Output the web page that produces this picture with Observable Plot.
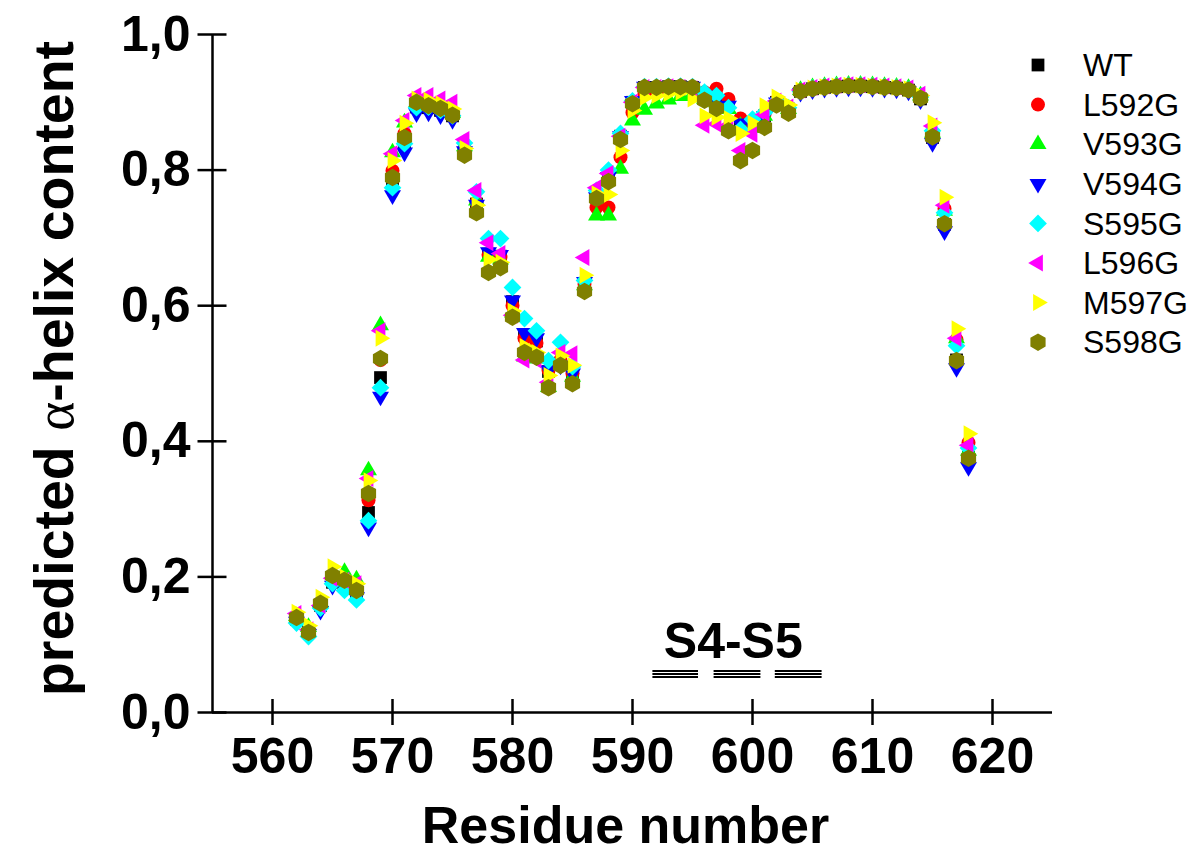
<!DOCTYPE html>
<html><head><meta charset="utf-8">
<script src="https://cdn.jsdelivr.net/npm/d3@7"></script>
<script src="https://cdn.jsdelivr.net/npm/@observablehq/plot@0.6"></script>
<style>
body{margin:0;background:#fff;}
#chart{position:relative;width:1190px;height:864px;}
</style></head><body><div id="chart"></div>
<script>
// ---------- data ----------
const residues = [562,563,564,565,566,567,568,569,
  570,571,572,573,574,575,576,577,578,579,
  580,581,582,583,584,585,586,587,588,589,
  590,591,592,593,594,595,596,597,598,599,
  600,601,602,603,604,605,606,607,608,609,
  610,611,612,613,614,615,616,617,618];

const seriesNames = ["WT","L592G","V593G","V594G","S595G","L596G","M597G","S598G"];

const WT = [0.137,0.118,0.158,0.192,0.186,0.176,0.295,0.494,
  0.780,0.840,0.893,0.892,0.888,0.880,0.830,0.750,0.676,0.673,
  0.606,0.557,0.548,0.503,0.515,0.500,0.633,0.760,0.790,0.850,
  0.900,0.922,0.922,0.923,0.923,0.922,0.910,0.905,0.895,0.870,
  0.865,0.880,0.900,0.890,0.916,0.920,0.922,0.923,0.924,0.924,
  0.923,0.922,0.921,0.918,0.905,0.848,0.720,0.520,0.376];
const L592G = [0.140,0.120,0.160,0.200,0.192,0.180,0.313,0.520,
  0.799,0.854,0.897,0.895,0.891,0.882,0.832,0.752,0.675,0.672,
  0.600,0.552,0.545,0.505,0.520,0.500,0.632,0.745,0.745,0.819,
  0.885,0.912,0.918,0.920,0.921,0.920,0.915,0.920,0.905,0.876,
  0.868,0.882,0.902,0.892,0.917,0.921,0.923,0.924,0.925,0.925,
  0.924,0.923,0.922,0.919,0.908,0.852,0.743,0.550,0.398];
const V593G = [0.142,0.126,0.163,0.205,0.207,0.196,0.357,0.571,
  0.826,0.870,0.900,0.897,0.893,0.884,0.835,0.755,0.672,0.668,
  0.590,0.525,0.522,0.480,0.515,0.495,0.630,0.733,0.733,0.802,
  0.873,0.889,0.898,0.904,0.909,0.912,0.905,0.900,0.890,0.865,
  0.862,0.880,0.900,0.890,0.918,0.922,0.924,0.925,0.926,0.926,
  0.925,0.924,0.923,0.921,0.910,0.855,0.740,0.552,0.386];
const V594G = [0.134,0.116,0.150,0.187,0.184,0.170,0.273,0.466,
  0.763,0.826,0.884,0.885,0.881,0.874,0.828,0.749,0.679,0.675,
  0.608,0.560,0.552,0.505,0.512,0.500,0.635,0.760,0.790,0.850,
  0.902,0.923,0.923,0.924,0.924,0.923,0.910,0.905,0.895,0.869,
  0.865,0.880,0.900,0.890,0.914,0.918,0.920,0.921,0.922,0.922,
  0.921,0.920,0.919,0.916,0.903,0.840,0.710,0.508,0.362];
const S595G = [0.132,0.112,0.154,0.190,0.180,0.166,0.283,0.479,
  0.774,0.839,0.892,0.893,0.888,0.880,0.840,0.768,0.699,0.699,
  0.627,0.581,0.563,0.519,0.546,0.510,0.637,0.770,0.800,0.854,
  0.902,0.923,0.923,0.924,0.924,0.923,0.915,0.910,0.892,0.860,
  0.875,0.885,0.902,0.892,0.916,0.921,0.923,0.924,0.925,0.925,
  0.924,0.923,0.922,0.919,0.908,0.858,0.737,0.541,0.390];
const L596G = [0.146,0.122,0.158,0.198,0.195,0.190,0.345,0.563,
  0.824,0.873,0.910,0.910,0.905,0.900,0.845,0.770,0.693,0.677,
  0.586,0.520,0.520,0.487,0.531,0.529,0.671,0.774,0.795,0.850,
  0.900,0.922,0.922,0.923,0.922,0.920,0.866,0.868,0.866,0.829,
  0.853,0.882,0.902,0.893,0.918,0.922,0.924,0.925,0.926,0.926,
  0.925,0.924,0.923,0.921,0.912,0.865,0.748,0.552,0.394];
const M597G = [0.148,0.128,0.170,0.215,0.200,0.190,0.342,0.552,
  0.814,0.869,0.905,0.903,0.898,0.890,0.832,0.748,0.668,0.664,
  0.592,0.540,0.531,0.497,0.526,0.512,0.645,0.765,0.764,0.829,
  0.888,0.907,0.910,0.913,0.915,0.905,0.880,0.878,0.876,0.854,
  0.869,0.895,0.908,0.896,0.918,0.921,0.923,0.924,0.925,0.925,
  0.924,0.923,0.922,0.920,0.910,0.870,0.760,0.566,0.411];
const S598G = [0.140,0.118,0.161,0.202,0.195,0.180,0.323,0.522,
  0.789,0.848,0.900,0.895,0.891,0.881,0.822,0.737,0.649,0.656,
  0.583,0.531,0.524,0.479,0.512,0.485,0.621,0.758,0.783,0.845,
  0.898,0.922,0.922,0.923,0.923,0.922,0.903,0.891,0.858,0.814,
  0.829,0.863,0.896,0.884,0.916,0.920,0.922,0.923,0.924,0.924,
  0.923,0.922,0.921,0.918,0.906,0.849,0.721,0.519,0.375];

const xTicks = [560,570,580,590,600,610,620];
const yTicks = [0,0.2,0.4,0.6,0.8,1.0];

// S4-S5 annotation: label and the three triple-bar groups (residue spans)
const annotLabel = ["S4-S5"];
const annotLabelPos = [{x: 598.4, y: 0.081}];
const annotGroups = [[591.7,595.5],[596.8,600.7],[601.9,605.8]];
const annotBarLevels = [0.0612, 0.0568, 0.0524];

// ---------- styles ----------
const values = [WT, L592G, V593G, V594G, S595G, L596G, M597G, S598G];
const colors = ["#000000","#ff0000","#00ff00","#0000ff","#00ffff","#ff00ff","#ffff00","#808000"];
const symbols = ["square","circle","triangle","triangle","diamond2","triangle","triangle","hexagon"];
const rotations = [0,0,0,180,0,-90,90,0];
const radii = [7.2,7,6.3,6.3,8,6.3,6.3,7.6];

const table = seriesNames.flatMap((name, i) =>
  residues.map((r, j) => ({series: name, residue: r, value: values[i][j]})));

const annotBars = annotGroups.flatMap(([a,b]) => annotBarLevels.map(y => ({x1:a, x2:b, y})));

const W = 1190, H = 864, ML = 212, MR = 138, MT = 34, MB = 152;
const fmt = d => d.toFixed(1).replace(".", ",");

const dotMarks = seriesNames.map((name, i) =>
  Plot.dot(table.filter(d => d.series === name), {
    x: "residue", y: "value", symbol: symbols[i], r: radii[i],
    fill: colors[i], stroke: "none", rotate: rotations[i]
  }));

const plot = Plot.plot({
  width: W, height: H,
  marginLeft: ML, marginRight: MR, marginTop: MT, marginBottom: MB,
  style: {fontFamily: "'Liberation Sans', Arial, sans-serif", background: "#fff", color: "#000", overflow: "visible"},
  x: {domain: [555, 625], axis: null},
  y: {domain: [0, 1], axis: null},
  marks: [
    // axis lines
    Plot.ruleX([555], {strokeWidth: 2.5}),
    Plot.ruleY([0], {strokeWidth: 2.5}),
    // crossing ticks
    Plot.tickX(xTicks, {x: d => d, insetTop: (H - MT - MB) - 13, insetBottom: -13, strokeWidth: 2.5}),
    Plot.tickY(yTicks, {y: d => d, insetLeft: -14.5, insetRight: (W - ML - MR) - 14.5, strokeWidth: 2.5}),
    // tick labels
    Plot.text(xTicks, {x: d => d, frameAnchor: "bottom", lineAnchor: "top", dy: 25, text: d => String(d), fontSize: 50, fontWeight: "bold"}),
    Plot.text(yTicks, {y: d => d, frameAnchor: "left", textAnchor: "end", dx: -22, text: fmt, fontSize: 50, fontWeight: "bold"}),
    // axis titles
    Plot.text(["Residue number"], {frameAnchor: "bottom", dy: 130, dx: -7, fontSize: 52, fontWeight: "bold"}),
    Plot.text(["predicted α-helix content"], {frameAnchor: "left", textAnchor: "middle", dx: -157, dy: -5, rotate: -90, fontSize: 55.5, fontWeight: "bold"}),
    // annotation
    Plot.ruleY(annotBars, {x1: "x1", x2: "x2", y: "y", strokeWidth: 2}),
    Plot.text(annotLabelPos, {x: "x", y: "y", text: (d, i) => annotLabel[i], fontSize: 50, fontWeight: "bold", lineAnchor: "bottom"}),
    ...dotMarks
  ]
});

const svg = d3.select(plot);

// alpha in a lighter serif face
svg.selectAll("text").each(function() {
  const t = d3.select(this);
  if (this.textContent === "predicted α-helix content") {
    t.text(null);
    t.append("tspan").text("predicted ");
    t.append("tspan").text("α").attr("font-family", "'Liberation Serif', serif").attr("font-weight", "normal");
    t.append("tspan").text("-helix content");
  }
});

// legend
const hexSym = {draw(ctx, size) {
  const rx = Math.sqrt(size / Math.PI), ry = rx * 2 / Math.sqrt(3), hy = ry / 2;
  ctx.moveTo(0, ry); ctx.lineTo(rx, hy); ctx.lineTo(rx, -hy);
  ctx.lineTo(0, -ry); ctx.lineTo(-rx, -hy); ctx.lineTo(-rx, hy); ctx.closePath();
}};
const d3Sym = {square: d3.symbolSquare, circle: d3.symbolCircle, triangle: d3.symbolTriangle, diamond2: d3.symbolDiamond2, hexagon: hexSym};
const lg = svg.append("g").attr("class", "legend").attr("text-anchor", "start");
seriesNames.forEach((name, i) => {
  const y = 65 + i * 39.6;
  lg.append("path")
    .attr("d", d3.symbol(d3Sym[symbols[i]], Math.PI * radii[i] * radii[i])())
    .attr("transform", `translate(1038,${y}) rotate(${rotations[i]})`)
    .attr("fill", colors[i]);
  lg.append("text").attr("x", 1083).attr("y", y).attr("dy", "0.35em")
    .attr("text-anchor", "start")
    .attr("font-size", 32).attr("fill", "#000").text(name);
});

document.getElementById("chart").appendChild(plot);
</script>
</body></html>
